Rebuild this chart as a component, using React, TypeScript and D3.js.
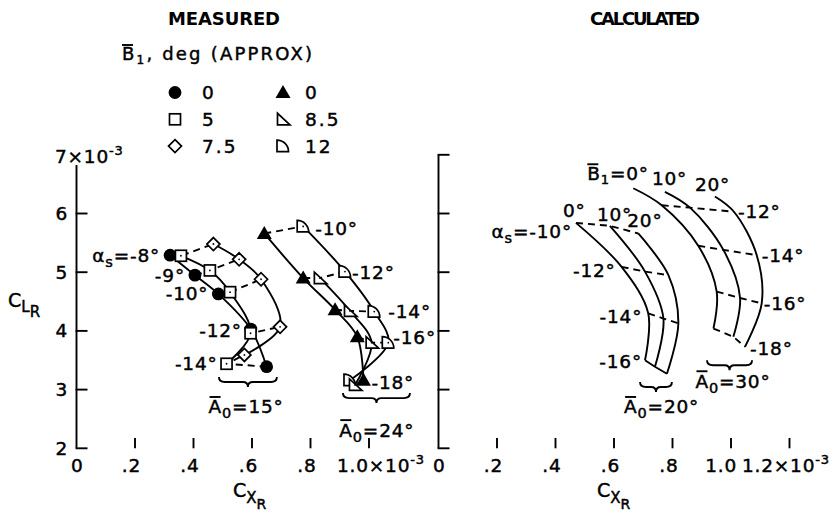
import React from 'react';
import * as d3 from 'd3';

// ---------- MEASURED, A0 = 15 deg ----------
const alphaA15 = [-8, -9, -10, -12, -14];
const cxA15B0 = [0.32, 0.405, 0.485, 0.596, 0.65];
const clA15B0 = [5.29, 4.95, 4.63, 4.03, 3.39];
const cxA15B5 = [0.357, 0.456, 0.525, 0.595, 0.513];
const clA15B5 = [5.28, 5.03, 4.66, 3.96, 3.44];
const cxA15B75 = [0.468, 0.556, 0.631, 0.696, 0.574];
const clA15B75 = [5.48, 5.22, 4.88, 4.07, 3.59];

// ---------- MEASURED, A0 = 24 deg ----------
const alphaA24 = [-10, -12, -14, -16, -18];
const cxA24B0 = [0.642, 0.775, 0.884, 0.96, 0.981];
const clA24B0 = [5.66, 4.9, 4.36, 3.9, 3.16];
const alphaA24B85 = [-12, -14, -16, -18];
const cxA24B85 = [0.832, 0.935, 1.009, 0.952];
const clA24B85 = [4.9, 4.34, 3.8, 3.08];
const cxA24B12 = [0.775, 0.918, 1.018, 1.066, 0.935];
const clA24B12 = [5.78, 5.01, 4.33, 3.8, 3.16];

// ---------- CALCULATED, A0 = 20 deg (B1 = 0, 10, 20) ----------
const alphaC20 = [-10, -12, -14, -16];
const cxC20B0 = [0.47, 0.626, 0.717, 0.706];
const clC20B0 = [5.84, 5.09, 4.3, 3.5];
const cxC20B10 = [0.586, 0.706, 0.769, 0.74];
const clC20B10 = [5.79, 5.01, 4.21, 3.39];
const cxC20B20 = [0.683, 0.786, 0.82, 0.781];
const clC20B20 = [5.66, 4.95, 4.13, 3.27];

// ---------- CALCULATED, A0 = 30 deg ----------
// first point is the unlabelled top end of each curve
const alphaC30 = [-11, -12, -14, -16, -18];
const cxC30B0 = [0.666, 0.763, 0.888, 0.951, 0.94];
const clC30B0 = [6.43, 6.14, 5.45, 4.67, 4.04];
const cxC30B10 = [0.774, 0.86, 0.974, 1.031, 1.008];
const clC30B10 = [6.37, 6.1, 5.38, 4.56, 3.9];
const cxC30B20 = [0.945, 1.01, 1.088, 1.105, 1.048];
const clC30B20 = [6.29, 6.03, 5.29, 4.47, 3.73];

// axes
const yTicks = [2, 3, 4, 5, 6, 7];
const yTickLabels = ['2', '3', '4', '5', '6'];
const xTicksL = [0, 0.2, 0.4, 0.6, 0.8, 1.0];
const xLabelsL = ['0', '.2', '.4', '.6', '.8'];
const xTicksR = [0, 0.2, 0.4, 0.6, 0.8, 1.0, 1.2];
const xLabelsR = ['0', '.2', '.4', '.6', '.8', '1.0'];

// legend
const legendKinds1 = ['circle', 'square', 'diamond'];
const legendText1 = ['0', '5', '7.5'];
const legendKinds2 = ['tri', 'rtri', 'quarter'];
const legendText2 = ['0', '8.5', '12'];

const FONT = '"DejaVu Sans", Verdana, sans-serif';
const SW = 1.9;

type Pt = [number, number];

function Mark({ kind, x, y, dot = true }: { kind: string; x: number; y: number; dot?: boolean }) {
  const open = { fill: 'white', stroke: 'black', strokeWidth: 1.7 };
  let shape: any = null;
  if (kind === 'circle') shape = <circle cx={x} cy={y} r={6.4} fill="black" />;
  if (kind === 'tri') shape = <path d={`M${x},${y - 7.5}L${x + 7.5},${y + 5.5}L${x - 7.5},${y + 5.5}Z`} fill="black" />;
  if (kind === 'square') shape = <rect x={x - 5.5} y={y - 5.5} width={11} height={11} {...open} />;
  if (kind === 'diamond') shape = <path d={`M${x},${y - 6.5}L${x + 6.5},${y}L${x},${y + 6.5}L${x - 6.5},${y}Z`} {...open} />;
  if (kind === 'rtri') shape = <path d={`M${x - 5.5},${y - 6}L${x - 5.5},${y + 5.5}L${x + 7},${y + 5.5}Z`} {...open} />;
  if (kind === 'quarter')
    shape = <path d={`M${x - 6},${y + 5.5}L${x - 6},${y - 6}A11.5,11.5 0 0 1 ${x + 5.5},${y + 5.5}Z`} {...open} />;
  const filled = kind === 'circle' || kind === 'tri';
  return (
    <g>
      {shape}
      {dot && !filled && <circle cx={x} cy={y} r={0.9} fill="black" />}
    </g>
  );
}

function Brace({ x1, x2, y }: { x1: number; x2: number; y: number }) {
  const m = (x1 + x2) / 2;
  const h = 5;
  const d = `M${x1},${y}Q${x1},${y + h} ${x1 + 6},${y + h}L${m - 5},${y + h}Q${m},${y + h} ${m},${y + 2 * h}` +
    `Q${m},${y + h} ${m + 5},${y + h}L${x2 - 6},${y + h}Q${x2},${y + h} ${x2},${y}`;
  return <path d={d} fill="none" stroke="black" strokeWidth={SW} />;
}

const txt = { fontFamily: FONT, fontSize: 18.5, letterSpacing: 0.8, stroke: 'black', strokeWidth: 0.45 } as const;

function ALabel({ cx, cy, value }: { cx: number; cy: number; value: string }) {
  const x0 = cx - 37;
  const base = cy + 6.5;
  return (
    <g>
      <line x1={x0 + 1} x2={x0 + 12} y1={base - 16.5} y2={base - 16.5} stroke="black" strokeWidth={1.9} />
      <text x={x0} y={base} {...txt}>
        A<tspan fontSize={14.5} dy={5}>0</tspan>
        <tspan dy={-5}>={value}°</tspan>
      </text>
    </g>
  );
}

export default function App() {
  const xL = d3.scaleLinear().domain([0, 1]).range([76.5, 369]);
  const xR = d3.scaleLinear().domain([0, 1.2]).range([438.5, 789.5]);
  const y = d3.scaleLinear().domain([2, 7]).range([448.3, 154.8]);

  const smooth = d3.line<Pt>().curve(d3.curveCatmullRom.alpha(0.5));
  const straight = d3.line<Pt>();
  const P = (xs: number[], ys: number[], sx: d3.ScaleLinear<number, number>): Pt[] =>
    xs.map((v, i) => [sx(v), y(ys[i])] as Pt);

  const m15 = [P(cxA15B0, clA15B0, xL), P(cxA15B5, clA15B5, xL), P(cxA15B75, clA15B75, xL)];
  const kinds15 = ['circle', 'square', 'diamond'];
  const m24b0 = P(cxA24B0, clA24B0, xL);
  const m24b85 = P(cxA24B85, clA24B85, xL);
  const m24b12 = P(cxA24B12, clA24B12, xL);
  const c20 = [P(cxC20B0, clC20B0, xR), P(cxC20B10, clC20B10, xR), P(cxC20B20, clC20B20, xR)];
  const c30 = [P(cxC30B0, clC30B0, xR), P(cxC30B10, clC30B10, xR), P(cxC30B20, clC30B20, xR)];

  const iso15 = alphaA15.map((_, i) => m15.map((s) => s[i]));
  const iso24 = alphaA24.map((a, i) => {
    const j = alphaA24B85.indexOf(a);
    return j >= 0 ? [m24b0[i], m24b85[j], m24b12[i]] : [m24b0[i], m24b12[i]];
  });
  const iso20 = alphaC20.map((_, i) => c20.map((s) => s[i]));
  const iso30 = alphaC30.map((_, i) => c30.map((s) => s[i]));

  const dash = '7,5';

  // label offsets (px) from the anchoring data point
  const lab15 = [[-10, 0], [-10, 0], [-10, 0], [-9, 1], [-9, 0]];
  const lab24 = [[12, 2], [7, 1], [14, 0], [5, -5], [8, 2]];
  const lab20 = [[-4, 9], [-6, 4], [-6, 3], [-3, 1]];
  const lab30 = [null, [4, 0], [5, 0], [2, 0], [5, 2]];

  const axisY = (x0: number, top: number, withLabels: boolean) => (
    <g>
      <line x1={x0} x2={x0} y1={top} y2={y(2)} stroke="black" strokeWidth={SW} />
      {yTicks.map((t) =>
        t === 7 && withLabels ? null : (
          <line key={t} x1={x0 - 0.9} x2={x0 + 11} y1={y(t)} y2={y(t)} stroke="black" strokeWidth={SW} />
        ),
      )}
      {withLabels &&
        yTickLabels.map((s, i) => (
          <text key={s} x={68} y={y(yTicks[i]) + 6.5} textAnchor="end" {...txt}>
            {s}
          </text>
        ))}
    </g>
  );

  return (
    <svg width={837} height={513} style={{ position: 'absolute', left: 0, top: 0, background: 'white' }}>
      {/* titles */}
      <text x={168} y={25} fontFamily={FONT} fontSize={18} fontWeight="bold" textLength={112}>
        MEASURED
      </text>
      <text x={590} y={25} fontFamily={FONT} fontSize={18} fontWeight="bold" textLength={110}>
        CALCULATED
      </text>
      <line x1={122} x2={133} y1={45} y2={45} stroke="black" strokeWidth={1.9} />
      <text x={122} y={60} fontFamily={FONT} fontSize={18} textLength={190} stroke="black" strokeWidth={0.45}>
        B<tspan fontSize={12} dy={4}>1</tspan>
        <tspan dy={-4}>, deg (APPROX)</tspan>
      </text>

      {/* legend */}
      {legendKinds1.map((k, i) => (
        <g key={k}>
          <Mark kind={k} x={175} y={92.5 + i * 26.8} dot={false} />
          <text x={202} y={92.5 + i * 26.8 + 6.5} {...txt} letterSpacing={2}>
            {legendText1[i]}
          </text>
        </g>
      ))}
      {legendKinds2.map((k, i) => (
        <g key={k}>
          <Mark kind={k} x={283} y={92.5 + i * 26.8} dot={false} />
          <text x={305} y={92.5 + i * 26.8 + 6.5} {...txt} letterSpacing={2}>
            {legendText2[i]}
          </text>
        </g>
      ))}

      {/* axes */}
      {axisY(xL(0), 165, true)}
      {axisY(xR(0), y(7), false)}
      <text x={55} y={163} {...txt}>
        7×10<tspan fontSize={13} dy={-8}>-3</tspan>
      </text>
      <text x={8} y={307} fontFamily={FONT} fontSize={19} stroke="black" strokeWidth={0.45}>
        C<tspan fontSize={15} dy={5}>L</tspan>
        <tspan fontSize={15} dy={5}>R</tspan>
      </text>

      {xTicksL.slice(1).map((t) => (
        <line key={t} x1={xL(t)} x2={xL(t)} y1={438} y2={448.3} stroke="black" strokeWidth={SW} />
      ))}
      {xLabelsL.map((s, i) => (
        <text key={s} x={xL(xTicksL[i]) + (i === 0 ? 7 : 6)} y={472} textAnchor="end" {...txt}>
          {s}
        </text>
      ))}
      <text x={337} y={472} {...txt}>
        1.0×10<tspan fontSize={13} dy={-8}>-3</tspan>
      </text>

      {xTicksR.slice(1).map((t) => (
        <line key={t} x1={xR(t)} x2={xR(t)} y1={438} y2={448.3} stroke="black" strokeWidth={SW} />
      ))}
      {xLabelsR.map((s, i) => (
        <text key={s} x={xR(xTicksR[i]) + (i === 0 ? 7 : 6)} y={472} textAnchor="end" {...txt}>
          {s}
        </text>
      ))}
      <text x={742} y={472} {...txt}>
        1.2×10<tspan fontSize={13} dy={-8}>-3</tspan>
      </text>

      <text x={233} y={497} fontFamily={FONT} fontSize={19} stroke="black" strokeWidth={0.45}>
        C<tspan fontSize={15} dy={6}>X</tspan>
        <tspan fontSize={14} dy={6}>R</tspan>
      </text>
      <text x={597} y={497} fontFamily={FONT} fontSize={19} stroke="black" strokeWidth={0.45}>
        C<tspan fontSize={15} dy={6}>X</tspan>
        <tspan fontSize={14} dy={6}>R</tspan>
      </text>

      {/* measured curves (solid) and constant-alpha lines (dashed) */}
      <g fill="none" stroke="black" strokeWidth={SW}>
        {m15.map((s, i) => <path key={i} d={smooth(s) || ''} />)}
        {iso15.map((s, i) => <path key={'i' + i} d={straight(s) || ''} strokeDasharray={dash} />)}
        <path d={smooth(m24b0) || ''} />
        <path d={smooth(m24b85) || ''} />
        <path d={smooth(m24b12) || ''} />
        {iso24.map((s, i) => <path key={'j' + i} d={straight(s) || ''} strokeDasharray={dash} />)}
      </g>
      {m15.map((s, i) => s.map((p, j) => <Mark key={i + '-' + j} kind={kinds15[i]} x={p[0]} y={p[1]} />))}
      {m24b12.map((p, j) => <Mark key={'q' + j} kind="quarter" x={p[0]} y={p[1]} />)}
      {m24b85.map((p, j) => <Mark key={'r' + j} kind="rtri" x={p[0]} y={p[1]} />)}
      {m24b0.map((p, j) => <Mark key={'t' + j} kind="tri" x={p[0]} y={p[1]} />)}

      {alphaA15.map((a, i) => {
        const p = i === 4 ? m15[1][i] : m15[0][i];
        return (
          <text key={'la' + a} x={p[0] + lab15[i][0]} y={p[1] + lab15[i][1] + 6.5} textAnchor="end" {...txt}>
            {i === 0 ? (
              <>
                α<tspan fontSize={14.5} dy={5}>s</tspan>
                <tspan dy={-5}>={a}°</tspan>
              </>
            ) : (
              `${a}°`
            )}
          </text>
        );
      })}
      {alphaA24.map((a, i) => {
        const p = i === 4 ? m24b0[i] : m24b12[i];
        return (
          <text key={'lb' + a} x={p[0] + lab24[i][0]} y={p[1] + lab24[i][1] + 6.5} {...txt}>
            {a}°
          </text>
        );
      })}

      <Brace x1={xL(0.487)} x2={xL(0.685)} y={y(3.215)} />
      <ALabel cx={xL(0.578)} cy={y(3.215) + 30} value="15" />
      <Brace x1={xL(0.911)} x2={xL(1.14)} y={y(2.94)} />
      <ALabel cx={xL(1.025)} cy={y(2.94) + 37} value="24" />

      {/* calculated */}
      <g fill="none" stroke="black" strokeWidth={SW}>
        {c20.map((s, i) => <path key={'c' + i} d={smooth(s) || ''} />)}
        {c30.map((s, i) => <path key={'d' + i} d={smooth(s) || ''} />)}
        {iso20.map((s, i) => (
          <path key={'e' + i} d={straight(s) || ''} strokeDasharray={i === 3 ? undefined : dash} />
        ))}
        {iso30.slice(1).map((s, i) => <path key={'f' + i} d={straight(s) || ''} strokeDasharray={dash} />)}
      </g>

      {alphaC20.map((a, i) => {
        const p = c20[0][i];
        return (
          <text key={'lc' + a} x={p[0] + lab20[i][0]} y={p[1] + lab20[i][1] + 6.5} textAnchor="end" {...txt}>
            {i === 0 ? (
              <>
                α<tspan fontSize={14.5} dy={5}>s</tspan>
                <tspan dy={-5}>={a}°</tspan>
              </>
            ) : (
              `${a}°`
            )}
          </text>
        );
      })}
      {alphaC30.map((a, i) => {
        const o = lab30[i];
        if (!o) return null;
        const p = c30[2][i];
        return (
          <text key={'ld' + a} x={p[0] + o[0]} y={p[1] + o[1] + 6.5} {...txt}>
            {a}°
          </text>
        );
      })}
      {/* B1 labels at top of the A0 = 20 curves */}
      <text x={c20[0][0][0] - 13} y={c20[0][0][1] - 12 + 6.5} {...txt}>0°</text>
      <text x={c20[1][0][0] - 13} y={c20[1][0][1] - 11 + 6.5} {...txt}>10°</text>
      <text x={c20[2][0][0] - 11} y={c20[2][0][1] - 13 + 6.5} {...txt}>20°</text>
      {/* B1 labels at top of the A0 = 30 curves */}
      <line x1={c30[0][0][0] - 46} x2={c30[0][0][0] - 35} y1={c30[0][0][1] - 24} y2={c30[0][0][1] - 24}
        stroke="black" strokeWidth={1.9} />
      <text x={c30[0][0][0] - 46} y={c30[0][0][1] - 8} {...txt}>
        B<tspan fontSize={13} dy={4}>1</tspan>
        <tspan dy={-4}>=0°</tspan>
      </text>
      <text x={c30[1][0][0] - 13} y={c30[1][0][1] - 13 + 6.5} {...txt}>10°</text>
      <text x={c30[2][0][0] - 20} y={c30[2][0][1] - 12 + 6.5} {...txt}>20°</text>

      <Brace x1={xR(0.689)} x2={xR(0.798)} y={y(3.13)} />
      <ALabel cx={xR(0.761)} cy={y(3.13) + 25} value="20" />
      <Brace x1={xR(0.918)} x2={xR(1.072)} y={y(3.5)} />
      <ALabel cx={xR(1.005)} cy={y(3.5) + 21} value="30" />
    </svg>
  );
}
